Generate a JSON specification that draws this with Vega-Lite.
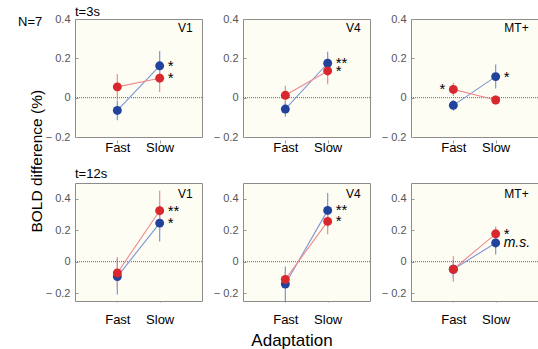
{
  "$schema": "https://vega.github.io/schema/vega-lite/v6.json",
  "padding": {"left": 17, "top": 5, "right": 0, "bottom": 0},
  "background": "white",
  "title": {"text": "BOLD difference (%)", "orient": "left", "anchor": "middle", "fontSize": 15.5, "fontWeight": "normal", "color": "black", "font": "Liberation Sans", "offset": -28, "dx": 16},
  "config": {
    "font": "Liberation Sans",
    "view": {"fill": "#fdfdf4", "stroke": "#8c8c8c", "strokeWidth": 1},
    "axis": {"domain": false, "grid": false, "tickColor": "#9a9a9a", "tickSize": -3, "labelOverlap": false, "labelBound": false, "labelFlush": false, "labelFont": "Liberation Sans", "titleFont": "Liberation Sans", "titleFontWeight": "normal", "titleColor": "black", "titleFontSize": 17},
    "axisX": {"labelFontSize": 13, "labelColor": "black", "labelPadding": 1, "labelAngle": 0},
    "axisY": {"labelFontSize": 11, "labelColor": "#555555", "labelPadding": 8},
    "header": {"titleFont": "Liberation Sans", "titleFontSize": 17, "titleColor": "black", "titleFontWeight": "normal"},
    "title": {"font": "Liberation Sans"}
  },
  "datasets": {
    "pts": [
      {"time": "t=3s", "region": "V1", "adaptation": "Fast", "group": "A", "mean": -0.065, "lo": -0.115, "hi": -0.015, "sig": ""},
      {"time": "t=3s", "region": "V1", "adaptation": "Slow", "group": "A", "mean": 0.162, "lo": 0.087, "hi": 0.237, "sig": "*"},
      {"time": "t=3s", "region": "V4", "adaptation": "Fast", "group": "A", "mean": -0.058, "lo": -0.097, "hi": -0.019, "sig": ""},
      {"time": "t=3s", "region": "V4", "adaptation": "Slow", "group": "A", "mean": 0.175, "lo": 0.116, "hi": 0.234, "sig": "**"},
      {"time": "t=3s", "region": "MT+", "adaptation": "Fast", "group": "A", "mean": -0.039, "lo": -0.066, "hi": -0.012, "sig": ""},
      {"time": "t=3s", "region": "MT+", "adaptation": "Slow", "group": "A", "mean": 0.107, "lo": 0.047, "hi": 0.169, "sig": "*"},
      {"time": "t=3s", "region": "V1", "adaptation": "Fast", "group": "B", "mean": 0.055, "lo": -0.01, "hi": 0.12, "sig": ""},
      {"time": "t=3s", "region": "V1", "adaptation": "Slow", "group": "B", "mean": 0.099, "lo": 0.029, "hi": 0.169, "sig": "*"},
      {"time": "t=3s", "region": "V4", "adaptation": "Fast", "group": "B", "mean": 0.012, "lo": -0.037, "hi": 0.061, "sig": ""},
      {"time": "t=3s", "region": "V4", "adaptation": "Slow", "group": "B", "mean": 0.136, "lo": 0.068, "hi": 0.204, "sig": "*"},
      {"time": "t=3s", "region": "MT+", "adaptation": "Fast", "group": "B", "mean": 0.042, "lo": 0.008, "hi": 0.076, "sig": "*"},
      {"time": "t=3s", "region": "MT+", "adaptation": "Slow", "group": "B", "mean": -0.012, "lo": -0.035, "hi": 0.011, "sig": ""},
      {"time": "t=12s", "region": "V1", "adaptation": "Fast", "group": "A", "mean": -0.095, "lo": -0.208, "hi": 0.018, "sig": ""},
      {"time": "t=12s", "region": "V1", "adaptation": "Slow", "group": "A", "mean": 0.245, "lo": 0.128, "hi": 0.362, "sig": "*"},
      {"time": "t=12s", "region": "V4", "adaptation": "Fast", "group": "A", "mean": -0.142, "lo": -0.25, "hi": -0.03, "sig": ""},
      {"time": "t=12s", "region": "V4", "adaptation": "Slow", "group": "A", "mean": 0.326, "lo": 0.215, "hi": 0.437, "sig": "**"},
      {"time": "t=12s", "region": "MT+", "adaptation": "Fast", "group": "A", "mean": -0.048, "lo": -0.105, "hi": 0.01, "sig": ""},
      {"time": "t=12s", "region": "MT+", "adaptation": "Slow", "group": "A", "mean": 0.119, "lo": 0.046, "hi": 0.19, "sig": "m.s."},
      {"time": "t=12s", "region": "V1", "adaptation": "Fast", "group": "B", "mean": -0.072, "lo": -0.17, "hi": 0.029, "sig": ""},
      {"time": "t=12s", "region": "V1", "adaptation": "Slow", "group": "B", "mean": 0.324, "lo": 0.2, "hi": 0.45, "sig": "**"},
      {"time": "t=12s", "region": "V4", "adaptation": "Fast", "group": "B", "mean": -0.113, "lo": -0.16, "hi": -0.066, "sig": ""},
      {"time": "t=12s", "region": "V4", "adaptation": "Slow", "group": "B", "mean": 0.256, "lo": 0.175, "hi": 0.337, "sig": "*"},
      {"time": "t=12s", "region": "MT+", "adaptation": "Fast", "group": "B", "mean": -0.048, "lo": -0.127, "hi": 0.035, "sig": ""},
      {"time": "t=12s", "region": "MT+", "adaptation": "Slow", "group": "B", "mean": 0.177, "lo": 0.131, "hi": 0.223, "sig": "*"}
    ]
  },
  "spacing": 13,
  "vconcat": [
    {
      "data": {"name": "pts"},
      "transform": [{"filter": "datum.time == 't=3s'"}],
      "title": {"text": "t=3s", "anchor": "start", "frame": "group", "fontSize": 13, "fontWeight": "normal", "color": "black", "offset": -6},
      "facet": {"column": {"field": "region", "type": "nominal", "sort": ["V1", "V4", "MT+"], "header": null}},
      "spacing": 9,
      "resolve": {"axis": {"y": "independent"}},
      "spec": {
        "width": 127,
        "height": 118,
        "encoding": {
          "x": {"field": "adaptation", "type": "ordinal", "scale": {"type": "point", "domain": ["Fast", "Slow"], "padding": 1}, "axis": {"title": null}}
        },
        "layer": [
          {"mark": {"type": "rule", "strokeWidth": 1.2, "clip": true}, "encoding": {"y": {"field": "lo", "type": "quantitative", "scale": {"domain": [-0.2, 0.4], "nice": false, "zero": false}, "axis": {"values": [-0.2, 0, 0.2, 0.4], "tickCount": 10, "labelOverlap": false, "labelExpr": "(datum.value < 0 ? '\u2212 ' : '') + format(abs(datum.value), '.1~f')", "title": null}}, "y2": {"field": "hi"}, "stroke": {"field": "group", "type": "nominal", "scale": {"domain": ["A", "B"], "range": ["#7e94d6", "#f08a8e"]}, "legend": null}}},
          {"transform": [{"aggregate": [{"op": "count", "as": "n"}], "groupby": ["region"]}], "mark": {"type": "rule", "strokeDash": [1, 1], "color": "#666666", "strokeWidth": 1}, "encoding": {"x": null, "y": {"datum": 0, "type": "quantitative"}}},
          {"mark": {"type": "line", "strokeWidth": 1.1}, "encoding": {"y": {"field": "mean", "type": "quantitative"}, "stroke": {"field": "group", "type": "nominal", "legend": null}}},
          {"mark": {"type": "circle", "size": 80, "opacity": 1}, "encoding": {"y": {"field": "mean", "type": "quantitative"}, "fill": {"field": "group", "type": "nominal", "scale": {"domain": ["A", "B"], "range": ["#22439c", "#d9272e"]}, "legend": null}}},
          {"transform": [{"filter": "datum.adaptation == 'Slow' && datum.sig != '' && datum.sig != 'm.s.'"}], "mark": {"type": "text", "align": "left", "baseline": "middle", "dx": 8, "fontSize": 15, "color": "black"}, "encoding": {"y": {"field": "mean", "type": "quantitative"}, "text": {"field": "sig"}}},
          {"transform": [{"filter": "datum.adaptation == 'Fast' && datum.sig != ''"}], "mark": {"type": "text", "align": "right", "baseline": "middle", "dx": -8, "fontSize": 15, "color": "black"}, "encoding": {"y": {"field": "mean", "type": "quantitative"}, "text": {"field": "sig"}}},
          {"transform": [{"aggregate": [{"op": "count", "as": "n"}], "groupby": ["region"]}], "mark": {"type": "text", "align": "right", "baseline": "middle", "dx": 33, "fontSize": 12, "color": "black"}, "encoding": {"x": {"datum": "Slow"}, "y": {"datum": 0.355}, "text": {"field": "region"}}},
          {"transform": [{"filter": "datum.region == 'V1'"}, {"aggregate": [{"op": "count", "as": "n"}], "groupby": ["region"]}], "mark": {"type": "text", "align": "right", "baseline": "middle", "dx": -75, "fontSize": 13, "color": "black"}, "encoding": {"x": {"datum": "Fast"}, "y": {"datum": 0.385}, "text": {"value": "N=7"}}}
        ]
      }
    },
    {
      "data": {"name": "pts"},
      "transform": [{"filter": "datum.time == 't=12s'"}],
      "title": {"text": "t=12s", "anchor": "start", "frame": "group", "fontSize": 13, "fontWeight": "normal", "color": "black", "offset": 2},
      "facet": {"column": {"field": "region", "type": "nominal", "sort": ["V1", "V4", "MT+"], "title": "Adaptation", "header": {"labels": false, "titleOrient": "bottom", "titlePadding": -3}}},
      "spacing": 9,
      "resolve": {"axis": {"y": "independent"}},
      "spec": {
        "width": 127,
        "height": 118,
        "encoding": {
          "x": {"field": "adaptation", "type": "ordinal", "scale": {"type": "point", "domain": ["Fast", "Slow"], "padding": 1}, "axis": {"title": null, "labelPadding": 14}}
        },
        "layer": [
          {"mark": {"type": "rule", "strokeWidth": 1.2, "clip": true}, "encoding": {"y": {"field": "lo", "type": "quantitative", "scale": {"domain": [-0.25, 0.5], "nice": false, "zero": false}, "axis": {"values": [-0.2, 0, 0.2, 0.4], "tickCount": 10, "labelOverlap": false, "labelExpr": "(datum.value < 0 ? '\u2212 ' : '') + format(abs(datum.value), '.1~f')", "title": null}}, "y2": {"field": "hi"}, "stroke": {"field": "group", "type": "nominal", "scale": {"domain": ["A", "B"], "range": ["#7e94d6", "#f08a8e"]}, "legend": null}}},
          {"transform": [{"aggregate": [{"op": "count", "as": "n"}], "groupby": ["region"]}], "mark": {"type": "rule", "strokeDash": [1, 1], "color": "#666666", "strokeWidth": 1}, "encoding": {"x": null, "y": {"datum": 0, "type": "quantitative"}}},
          {"mark": {"type": "line", "strokeWidth": 1.1}, "encoding": {"y": {"field": "mean", "type": "quantitative"}, "stroke": {"field": "group", "type": "nominal", "legend": null}}},
          {"mark": {"type": "circle", "size": 80, "opacity": 1}, "encoding": {"y": {"field": "mean", "type": "quantitative"}, "fill": {"field": "group", "type": "nominal", "scale": {"domain": ["A", "B"], "range": ["#22439c", "#d9272e"]}, "legend": null}}},
          {"transform": [{"filter": "datum.adaptation == 'Slow' && datum.sig != '' && datum.sig != 'm.s.'"}], "mark": {"type": "text", "align": "left", "baseline": "middle", "dx": 8, "fontSize": 15, "color": "black"}, "encoding": {"y": {"field": "mean", "type": "quantitative"}, "text": {"field": "sig"}}},
          {"transform": [{"filter": "datum.sig == 'm.s.'"}], "mark": {"type": "text", "align": "left", "baseline": "middle", "dx": 8, "fontSize": 14, "fontStyle": "italic", "color": "black"}, "encoding": {"y": {"field": "mean", "type": "quantitative"}, "text": {"field": "sig"}}},
          {"transform": [{"aggregate": [{"op": "count", "as": "n"}], "groupby": ["region"]}], "mark": {"type": "text", "align": "right", "baseline": "middle", "dx": 33, "fontSize": 12, "color": "black"}, "encoding": {"x": {"datum": "Slow"}, "y": {"datum": 0.43}, "text": {"field": "region"}}}
        ]
      }
    }
  ]
}
